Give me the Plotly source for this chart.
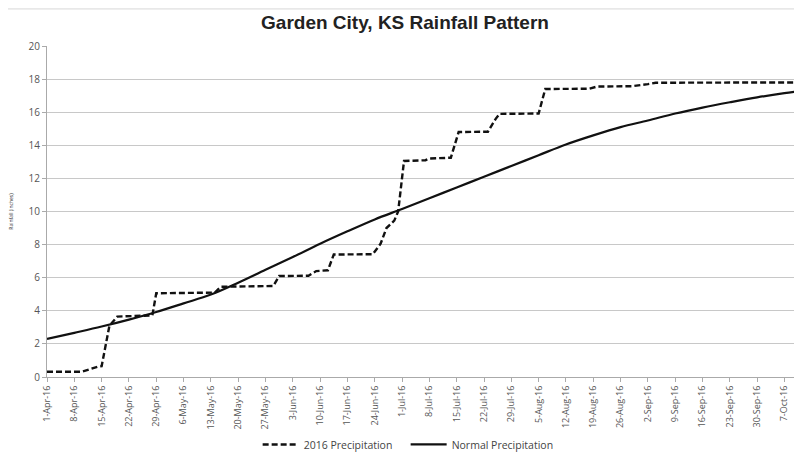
"""
Garden City, KS rainfall pattern: 2016 cumulative precipitation vs normal.
"""

import pandas as pd
import plotly.graph_objects as go

# =============================================================================
# DATA
# =============================================================================

START = pd.Timestamp("2016-04-01")

# Normal precipitation (cumulative inches), read at weekly offsets (days from 1-Apr)
NORMAL_DAYS = [0, 7, 14, 21, 28, 35, 42, 49, 56, 63, 70, 77, 84, 91, 98, 105,
               112, 119, 126, 133, 140, 147, 154, 161, 168, 175, 182, 189, 193]
NORMAL_IN = [2.30, 2.67, 3.05, 3.47, 3.93, 4.45, 4.98, 5.70, 6.48, 7.25, 8.05,
             8.80, 9.52, 10.15, 10.80, 11.45, 12.10, 12.75, 13.40, 14.05, 14.60,
             15.10, 15.50, 15.92, 16.28, 16.60, 16.90, 17.15, 17.27]

# 2016 precipitation (cumulative inches), read at the step corners
RAIN_DAYS = [0, 9, 13, 14, 16, 18, 27, 28, 43, 44.5, 58, 59.5, 67, 69, 72, 73.5,
             83.5, 85.5, 87, 89, 90, 91.5, 97, 98, 103.5, 105.5, 113, 115, 116,
             126, 127.7, 139, 141, 150, 154, 156, 193]
RAIN_IN = [0.32, 0.32, 0.62, 0.65, 3.10, 3.65, 3.72, 5.06, 5.10, 5.45, 5.50, 6.10,
           6.12, 6.40, 6.45, 7.40, 7.42, 8.05, 9.00, 9.45, 10.00, 13.05, 13.10,
           13.20, 13.25, 14.80, 14.82, 15.60, 15.90, 15.92, 17.40, 17.42, 17.55,
           17.57, 17.70, 17.78, 17.80]

TICK_DAYS = list(range(0, 190, 7))
TICK_TEXT = ["1-Apr-16", "8-Apr-16", "15-Apr-16", "22-Apr-16", "29-Apr-16",
             "6-May-16", "13-May-16", "20-May-16", "27-May-16", "3-Jun-16",
             "10-Jun-16", "17-Jun-16", "24-Jun-16", "1-Jul-16", "8-Jul-16",
             "15-Jul-16", "22-Jul-16", "29-Jul-16", "5-Aug-16", "12-Aug-16",
             "19-Aug-16", "26-Aug-16", "2-Sep-16", "9-Sep-16", "16-Sep-16",
             "23-Sep-16", "30-Sep-16", "7-Oct-16"]


def to_dates(days):
    return [START + pd.Timedelta(hours=d * 24) for d in days]


GRID = "#c8c8c8"
FONT = "Open Sans, Liberation Sans, sans-serif"

fig = go.Figure()
fig.add_trace(go.Scatter(
    x=to_dates(RAIN_DAYS), y=RAIN_IN, mode="lines", name="2016 Precipitation",
    line={"color": "#111111", "width": 2.4, "dash": "6px,3px"},
))
fig.add_trace(go.Scatter(
    x=to_dates(NORMAL_DAYS), y=NORMAL_IN, mode="lines", name="Normal Precipitation",
    line={"color": "#111111", "width": 2.2, "shape": "spline"},
))

# the page body has an 8px margin, so the figure is sized 8px smaller each way
fig.update_layout(
    width=794, height=448,
    margin={"l": 39, "r": 0, "t": 38, "b": 79, "autoexpand": False},
    paper_bgcolor="white", plot_bgcolor="white",
    font={"family": FONT, "color": "#555555", "size": 10},
    title={"text": "<b>Garden City, KS Rainfall Pattern</b>", "x": 0.5, "xanchor": "center",
           "y": 0.969, "yanchor": "middle",
           "font": {"family": "Liberation Sans, sans-serif", "size": 19, "color": "#222222"}},
    showlegend=True,
    legend={"orientation": "h", "x": 0.279, "xanchor": "left", "y": -0.16,
            "yanchor": "top", "font": {"size": 10.5, "color": "#444444"},
            "itemwidth": 36, "entrywidth": 97, "entrywidthmode": "pixels",
            "bgcolor": "rgba(0,0,0,0)"},
    shapes=[{"type": "line", "xref": "paper", "yref": "paper",
             "x0": -0.052, "x1": 1, "y0": 1.112, "y1": 1.112,
             "line": {"color": "#d8d8d8", "width": 1}}],
)

fig.update_xaxes(
    type="date", automargin=False,
    range=[START, START + pd.Timedelta(days=193.5)],
    tickvals=to_dates(TICK_DAYS), ticktext=TICK_TEXT,
    tickangle=-90, tickfont={"size": 9, "color": "#555555"},
    ticks="outside", ticklen=4, tickcolor="#aaaaaa",
    showline=True, linecolor="#aaaaaa", linewidth=1,
    showgrid=False, zeroline=False,
)
fig.update_yaxes(
    range=[0, 20], dtick=2, automargin=False,
    tickfont={"size": 10, "color": "#555555"},
    ticks="outside", ticklen=4, tickcolor="#aaaaaa",
    showline=True, linecolor="#aaaaaa", linewidth=1,
    showgrid=True, gridcolor=GRID, gridwidth=1, zeroline=False,
    title={"text": "Rainfall (inches)", "font": {"size": 5, "color": "#333333"},
           "standoff": 24},
)

fig.write_html("out.html")
